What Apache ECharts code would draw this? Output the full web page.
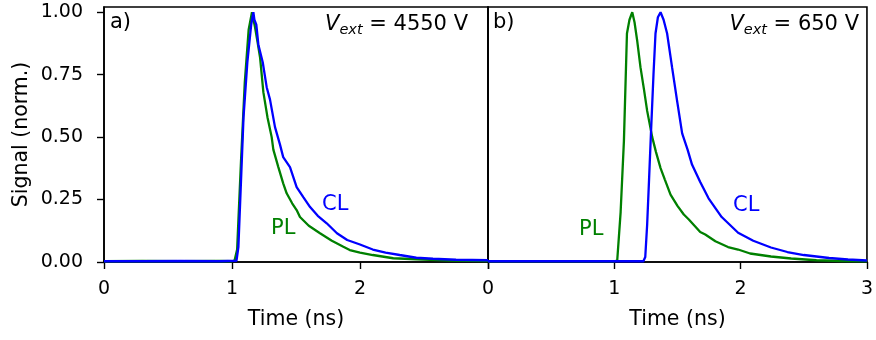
<!DOCTYPE html>
<html>
<head>
<meta charset="utf-8">
<script src="https://cdn.jsdelivr.net/npm/echarts@6/dist/echarts.min.js"></script>
<style>html,body{margin:0;padding:0;background:#fff}#c{width:876px;height:340px}</style>
</head>
<body>
<div id="c"></div>
<script>
// ---------- data ----------
const yTicks = [0, 0.25, 0.5, 0.75, 1.0];
const xTicks = [0, 1, 2, 3];

// panel a) Vext = 4550 V
const tPL_a = [0, 0.3, 0.6, 0.9, 1.0, 1.02, 1.04, 1.07, 1.10, 1.13, 1.156, 1.18, 1.20, 1.219, 1.245, 1.277, 1.31, 1.323, 1.362, 1.40, 1.427, 1.47, 1.505, 1.531, 1.60, 1.6875, 1.78, 1.87, 1.92, 2.0, 2.10, 2.26, 2.44, 2.7, 3.0];
const PL_a  = [0.003, 0.004, 0.003, 0.004, 0.003, 0.006, 0.05, 0.40, 0.72, 0.93, 1.0, 0.94, 0.88, 0.82, 0.68, 0.58, 0.50, 0.45, 0.38, 0.315, 0.275, 0.235, 0.208, 0.18, 0.145, 0.115, 0.085, 0.061, 0.048, 0.038, 0.028, 0.015, 0.011, 0.006, 0.004];
const tCL_a = [0, 0.3, 0.6, 0.9, 1.035, 1.05, 1.09, 1.12, 1.15, 1.167, 1.175, 1.19, 1.206, 1.24, 1.271, 1.297, 1.336, 1.375, 1.40, 1.453, 1.505, 1.557, 1.61, 1.67, 1.74, 1.82, 1.9, 2.0, 2.1, 2.2, 2.31, 2.44, 2.57, 2.75, 3.0];
const CL_a  = [0.003, 0.003, 0.004, 0.003, 0.005, 0.06, 0.58, 0.80, 0.95, 1.0, 0.97, 0.95, 0.87, 0.80, 0.70, 0.65, 0.54, 0.47, 0.42, 0.38, 0.30, 0.26, 0.22, 0.185, 0.155, 0.115, 0.088, 0.07, 0.05, 0.038, 0.028, 0.017, 0.013, 0.009, 0.007];

// panel b) Vext = 650 V
const tPL_b = [0, 0.3, 0.6, 0.9, 1.0, 1.023, 1.05, 1.076, 1.10, 1.12, 1.142, 1.16, 1.18, 1.207, 1.235, 1.26, 1.30, 1.33, 1.366, 1.40, 1.445, 1.50, 1.55, 1.59, 1.68, 1.72, 1.8, 1.9, 1.98, 2.075, 2.24, 2.4, 2.6, 2.8, 3.0];
const PL_b  = [0.003, 0.003, 0.003, 0.003, 0.003, 0.006, 0.2, 0.485, 0.915, 0.97, 1.0, 0.96, 0.89, 0.78, 0.69, 0.605, 0.50, 0.44, 0.376, 0.33, 0.27, 0.225, 0.19, 0.17, 0.12, 0.11, 0.083, 0.06, 0.05, 0.034, 0.022, 0.014, 0.007, 0.004, 0.003];
const tCL_b = [0, 0.3, 0.6, 0.9, 1.2, 1.23, 1.245, 1.26, 1.275, 1.29, 1.31, 1.326, 1.345, 1.366, 1.39, 1.418, 1.457, 1.497, 1.537, 1.58, 1.615, 1.68, 1.746, 1.85, 1.98, 2.1, 2.24, 2.37, 2.5, 2.7, 2.85, 3.0];
const CL_b  = [0.003, 0.003, 0.003, 0.003, 0.003, 0.003, 0.02, 0.15, 0.33, 0.515, 0.75, 0.915, 0.98, 1.0, 0.97, 0.915, 0.78, 0.645, 0.515, 0.45, 0.39, 0.32, 0.255, 0.18, 0.117, 0.085, 0.058, 0.04, 0.028, 0.016, 0.01, 0.006];

const labelsA = {title: 'a)', vext: '4550 V'};
const labelsB = {title: 'b)', vext: '650 V'};

// ---------- chart ----------
const FONT = 'DejaVu Sans';
const GREEN = '#008000', BLUE = '#0000ff';
const zip = (t, v) => t.map((x, i) => [x, v[i]]);

const chart = echarts.init(document.getElementById('c'), null, {renderer: 'canvas'});

function xAxisFor(gi, labelVals) {
  return {
    type: 'value', gridIndex: gi, min: 0, max: 3, interval: 1,
    name: 'Time (ns)', nameLocation: 'middle', nameGap: 47,
    nameTextStyle: {fontFamily: FONT, fontSize: 20.5, color: '#000'},
    axisLine: {show: true, lineStyle: {color: '#000', width: 1.6}},
    axisTick: {show: true, length: 7, lineStyle: {color: '#000', width: 1.4}, customValues: xTicks},
    axisLabel: {fontFamily: FONT, fontSize: 19, color: '#000', margin: 18, customValues: labelVals},
    splitLine: {show: false}
  };
}

const richV = {
  i: {fontFamily: FONT, fontStyle: 'italic', fontSize: 21, lineHeight: 26, verticalAlign: 'middle', fill: '#000'},
  s: {fontFamily: FONT, fontStyle: 'italic', fontSize: 14.5, lineHeight: 16, verticalAlign: 'bottom', fill: '#000'},
  n: {fontFamily: FONT, fontSize: 21, lineHeight: 26, verticalAlign: 'middle', fill: '#000'}
};

const option = {
  animation: false,
  backgroundColor: '#fff',
  grid: [
    {left: 104, top: 7, width: 384, height: 255, show: true, borderColor: '#000', borderWidth: 1.6, containLabel: false},
    {left: 488, top: 7, width: 383, height: 255, show: true, borderColor: '#000', borderWidth: 1.6, containLabel: false}
  ],
  xAxis: [xAxisFor(0, [0, 1, 2]), xAxisFor(1, [0, 1, 2, 3])],
  yAxis: [
    {
      type: 'value', gridIndex: 0, min: 0, max: 1.021,
      name: 'Signal (norm.)', nameLocation: 'middle', nameGap: 72, nameRotate: 90,
      nameTextStyle: {fontFamily: FONT, fontSize: 20.5, color: '#000'},
      axisLine: {show: true, lineStyle: {color: '#000', width: 1.6}},
      axisTick: {show: true, length: 7, lineStyle: {color: '#000', width: 1.4}, customValues: yTicks},
      axisLabel: {fontFamily: FONT, fontSize: 19, color: '#000', margin: 21, customValues: yTicks,
        formatter: v => v.toFixed(2)},
      splitLine: {show: false}
    },
    {
      type: 'value', gridIndex: 1, min: 0, max: 1.021,
      axisLine: {show: true, lineStyle: {color: '#000', width: 1.6}},
      axisTick: {show: false}, axisLabel: {show: false}, splitLine: {show: false}
    }
  ],
  series: [
    {type: 'line', xAxisIndex: 0, yAxisIndex: 0, data: zip(tPL_a, PL_a), showSymbol: false, lineStyle: {color: GREEN, width: 2.3}, z: 2},
    {type: 'line', xAxisIndex: 0, yAxisIndex: 0, data: zip(tCL_a, CL_a), showSymbol: false, lineStyle: {color: BLUE, width: 2.3}, z: 3},
    {type: 'line', xAxisIndex: 1, yAxisIndex: 1, data: zip(tPL_b, PL_b), showSymbol: false, lineStyle: {color: GREEN, width: 2.3}, z: 2},
    {type: 'line', xAxisIndex: 1, yAxisIndex: 1, data: zip(tCL_b, CL_b), showSymbol: false, lineStyle: {color: BLUE, width: 2.3}, z: 3}
  ],
  graphic: [
    {type: 'text', left: 110, top: 12, z: 10, style: {text: labelsA.title, fontFamily: FONT, fontSize: 21, fill: '#000'}},
    {type: 'text', left: 493, top: 12, z: 10, style: {text: labelsB.title, fontFamily: FONT, fontSize: 21, fill: '#000'}},
    {type: 'text', x: 468, y: 12, z: 10, style: {
      text: '{i|V}{s|ext}{n| = ' + labelsA.vext + '}', align: 'right', verticalAlign: 'top', rich: richV}},
    {type: 'text', x: 859, y: 12, z: 10, style: {
      text: '{i|V}{s|ext}{n| = ' + labelsB.vext + '}', align: 'right', verticalAlign: 'top', rich: richV}},
    {type: 'text', x: 271, y: 229, z: 10, style: {text: 'PL', fontFamily: FONT, fontSize: 21, fill: GREEN, verticalAlign: 'middle'}},
    {type: 'text', x: 322, y: 205, z: 10, style: {text: 'CL', fontFamily: FONT, fontSize: 21, fill: BLUE, verticalAlign: 'middle'}},
    {type: 'text', x: 579, y: 230, z: 10, style: {text: 'PL', fontFamily: FONT, fontSize: 21, fill: GREEN, verticalAlign: 'middle'}},
    {type: 'text', x: 733, y: 206, z: 10, style: {text: 'CL', fontFamily: FONT, fontSize: 21, fill: BLUE, verticalAlign: 'middle'}}
  ]
};
chart.setOption(option);
</script>
</body>
</html>
